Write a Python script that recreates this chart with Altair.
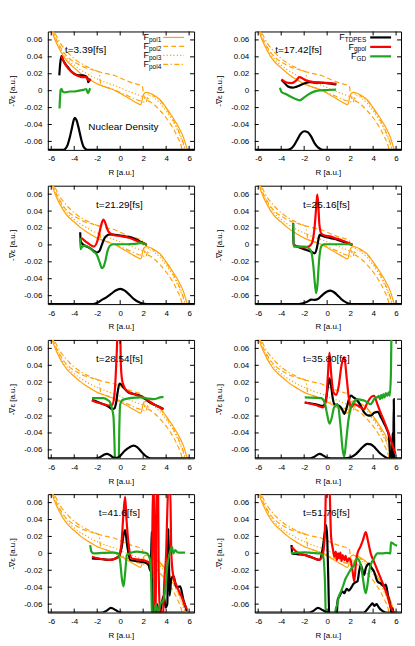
import altair as alt
import pandas as pd

XDOM = [-6.3, 6.43]
YDOM = [-0.07, 0.07]
XTICKS = [-6, -4, -2, 0, 2, 4, 6]
YTICKS = [-0.06, -0.04, -0.02, 0, 0.02, 0.04, 0.06]
W, H = 147, 119
FONT = "Liberation Sans"
ORANGE = "#ffa20a"
RED = "#ff0000"
GREEN = "#1fa51f"

# static polarized-surface forces (same in every panel)
POL1 = [(-6.1,0.080),(-5.8,0.065),(-5.5,0.055),(-5.2,0.047),(-4.9,0.040),(-4.5,0.033),(-4.0,0.027),(-3.5,0.021),(-3.0,0.016),(-2.5,0.012),(-2.0,0.008),(-1.5,0.0055),(-1.0,0.003),(-0.5,0.0005),(0.0,-0.003),(0.5,-0.007),(1.0,-0.011),(1.5,-0.015),(1.75,-0.0165),(1.85,-0.015),(1.95,-0.008),(2.1,-0.003),(2.3,-0.002),(2.6,-0.003),(3.0,-0.006),(3.5,-0.011),(4.0,-0.020),(4.5,-0.030),(5.0,-0.041),(5.5,-0.055),(5.8,-0.068),(6.1,-0.080)]
POL2 = [(-6.05,0.080),(-5.7,0.065),(-5.3,0.054),(-5.0,0.047),(-4.5,0.039),(-4.0,0.034),(-3.5,0.030),(-3.0,0.027),(-2.5,0.025),(-2.0,0.023),(-1.5,0.021),(-1.0,0.0195),(-0.43,0.0176),(0.0,0.015),(0.5,0.012),(1.0,0.0095),(1.5,0.0075),(1.8,0.0065),(1.95,0.004),(2.05,-0.006),(2.2,-0.010),(2.6,-0.013),(3.0,-0.017),(3.5,-0.024),(4.0,-0.032),(4.5,-0.042),(5.0,-0.055),(5.3,-0.065),(5.55,-0.080)]
POL3 = [(-6.05,0.078),(-5.7,0.063),(-5.3,0.052),(-5.0,0.045),(-4.5,0.036),(-4.0,0.030),(-3.5,0.025),(-3.0,0.021),(-2.5,0.017),(-2.0,0.014),(-1.5,0.011),(-1.0,0.0085),(-0.43,0.0059),(0.0,0.0035),(0.5,0.0005),(1.0,-0.002),(1.74,-0.0059),(2.2,-0.008),(2.45,-0.009),(2.55,-0.006),(2.7,-0.006),(3.0,-0.009),(3.5,-0.015),(4.0,-0.024),(4.5,-0.034),(5.0,-0.047),(5.4,-0.060),(5.75,-0.075)]
POL4 = [(-6.0,0.080),(-5.6,0.066),(-5.2,0.056),(-4.8,0.049),(-4.4,0.043),(-4.0,0.038),(-3.5,0.033),(-3.0,0.029),(-2.5,0.026),(-2.0,0.023),(-1.85,0.022),(-1.75,0.012),(-1.65,0.006),(-1.2,0.004),(-0.5,0.001),(0.0,-0.002),(0.5,-0.005),(1.0,-0.008),(1.5,-0.011),(2.0,-0.013),(2.25,-0.014),(2.35,-0.009),(2.45,-0.004),(2.7,-0.004),(3.0,-0.007),(3.5,-0.012),(4.0,-0.021),(4.5,-0.032),(5.0,-0.045),(5.4,-0.058),(5.8,-0.075)]

# panel 1  t=3.39 fs
TD1 = [(-5.3,0.018),(-5.22,0.032),(-5.12,0.041),(-5.0,0.037),(-4.8,0.032),(-4.5,0.027),(-4.2,0.022),(-3.9,0.019),(-3.6,0.018),(-3.3,0.018),(-3.0,0.017),(-2.85,0.015),(-2.78,0.010),(-2.68,0.012),(-2.6,0.014)]
GP1 = [(-5.12,0.041),(-5.0,0.037),(-4.8,0.032),(-4.5,0.026),(-4.2,0.022),(-3.9,0.019),(-3.6,0.017),(-3.3,0.016),(-3.0,0.016),(-2.85,0.014),(-2.72,0.012),(-2.58,0.014)]
GD1 = [(-5.28,-0.021),(-5.22,-0.005),(-5.18,0.001),(-5.1,0.002),(-5.0,-0.001),(-4.8,-0.002),(-4.4,-0.001),(-4.0,-0.001),(-3.6,0.0),(-3.2,0.001),(-2.95,0.002),(-2.82,-0.003),(-2.72,-0.001),(-2.62,0.003)]
DEN1 = [(-6.3,-0.07),(-5.0,-0.07),(-4.8,-0.069),(-4.6,-0.065),(-4.4,-0.056),(-4.2,-0.044),(-4.05,-0.035),(-3.95,-0.032),(-3.8,-0.035),(-3.6,-0.045),(-3.4,-0.057),(-3.2,-0.066),(-3.0,-0.069),(-2.8,-0.07),(6.43,-0.07)]

# panel 2  t=17.42 fs
TD2 = [(-3.97,0.013),(-3.7,0.009),(-3.4,0.005),(-3.0,0.0035),(-2.7,0.0045),(-2.4,0.0062),(-2.0,0.0085),(-1.5,0.010),(-1.0,0.0095),(-0.5,0.0094),(0.0,0.009),(0.4,0.008),(0.8,0.0074)]
GP2 = [(-3.97,0.0135),(-3.6,0.010),(-3.1,0.009),(-2.7,0.012),(-2.4,0.016),(-2.2,0.015),(-1.96,0.0129),(-1.5,0.011),(-0.95,0.0098),(-0.4,0.0096),(0.2,0.009),(0.8,0.0082)]
GD2 = [(-4.11,0.0035),(-4.05,0.001),(-3.97,-0.0016),(-3.6,-0.004),(-3.2,-0.007),(-2.8,-0.0095),(-2.39,-0.0114),(-2.0,-0.008),(-1.53,-0.0036),(-1.0,-0.0005),(-0.66,0.0004),(0.0,0.0008),(0.78,0.0012)]
DEN2 = [(-6.3,-0.07),(-3.5,-0.07),(-3.2,-0.069),(-2.9,-0.065),(-2.6,-0.058),(-2.3,-0.051),(-2.0,-0.048),(-1.7,-0.049),(-1.4,-0.054),(-1.1,-0.062),(-0.8,-0.067),(-0.5,-0.0695),(-0.3,-0.07),(6.43,-0.07)]

# panel 3  t=21.29 fs
TD3 = [(-3.48,0.015),(-3.44,0.004),(-3.2,0.0),(-2.9,-0.002),(-2.61,-0.004),(-2.3,-0.007),(-2.03,-0.009),(-1.8,-0.007),(-1.6,0.0),(-1.4,0.007),(-1.2,0.0105),(-0.9,0.0125),(-0.5,0.012),(0.0,0.011),(0.6,0.0095),(1.16,0.0078),(1.6,0.005),(2.03,0.002),(2.32,0.0)]
GP3 = [(-3.35,0.008),(-3.0,0.004),(-2.6,0.0),(-2.3,-0.002),(-2.0,0.004),(-1.75,0.018),(-1.55,0.028),(-1.45,0.030),(-1.3,0.026),(-1.1,0.018),(-0.9,0.014),(-0.58,0.0118),(0.0,0.0105),(0.6,0.009),(1.16,0.0065),(1.6,0.004),(2.03,0.002),(2.32,0.0008)]
GD3 = [(-3.48,0.008),(-3.45,-0.005),(-3.3,-0.002),(-3.04,-0.0008),(-2.61,-0.004),(-2.3,-0.008),(-2.03,-0.0118),(-1.8,-0.020),(-1.59,-0.0275),(-1.45,-0.026),(-1.3,-0.0196),(-1.1,-0.007),(-0.9,-0.001),(-0.58,0.0008),(0.0,0.0008),(0.6,0.0008),(1.2,0.0012),(1.74,0.002),(2.32,0.0008)]
DEN3 = [(-6.3,-0.07),(-2.4,-0.07),(-2.0,-0.0685),(-1.6,-0.065),(-1.2,-0.062),(-0.8,-0.058),(-0.4,-0.054),(0.0,-0.052),(0.4,-0.054),(0.8,-0.059),(1.2,-0.064),(1.6,-0.0675),(2.0,-0.0695),(2.3,-0.07),(6.43,-0.07)]

# panel 4  t=25.16 fs
TD4 = [(-2.96,0.0255),(-2.92,0.0),(-2.6,-0.002),(-2.24,-0.004),(-1.8,-0.006),(-1.38,-0.008),(-1.09,-0.010),(-0.9,-0.004),(-0.75,0.007),(-0.66,0.0118),(-0.4,0.0105),(-0.23,0.0098),(0.3,0.008),(0.92,0.006),(1.6,0.003),(2.21,0.0)]
GP4 = [(-2.9,0.0),(-2.5,-0.002),(-2.0,-0.003),(-1.6,-0.002),(-1.3,0.003),(-1.1,0.02),(-0.95,0.045),(-0.86,0.0596),(-0.78,0.05),(-0.68,0.025),(-0.52,0.0137),(-0.2,0.011),(0.34,0.0098),(0.8,0.0075),(1.21,0.0059),(1.7,0.003),(2.21,0.0)]
GD4 = [(-2.96,0.0255),(-2.92,-0.002),(-2.5,-0.002),(-1.95,-0.002),(-1.6,-0.004),(-1.38,-0.008),(-1.2,-0.025),(-1.05,-0.048),(-0.95,-0.057),(-0.85,-0.048),(-0.7,-0.018),(-0.52,-0.002),(-0.3,0.0008),(0.5,0.0008),(1.4,0.0008),(2.21,0.0008)]
DEN4 = [(-6.3,-0.07),(-2.5,-0.07),(-2.1,-0.069),(-1.7,-0.067),(-1.38,-0.0647),(-1.1,-0.065),(-0.8,-0.064),(-0.4,-0.059),(0.0,-0.055),(0.29,-0.054),(0.6,-0.056),(1.0,-0.061),(1.4,-0.066),(1.8,-0.069),(2.1,-0.07),(6.43,-0.07)]

# panel 5  t=28.54 fs
TD5 = [(-2.46,-0.0012),(-2.0,-0.003),(-1.45,-0.006),(-1.0,-0.009),(-0.72,-0.012),(-0.5,-0.011),(-0.35,-0.004),(-0.2,0.010),(-0.06,0.0184),(0.1,0.017),(0.29,0.0137),(0.72,0.0078),(1.2,0.006),(1.74,0.004),(2.2,0.0),(2.61,-0.004),(3.19,-0.0078),(3.77,-0.0118)]
GP5 = [(-2.46,-0.0012),(-2.0,-0.004),(-1.45,-0.006),(-1.0,-0.0075),(-0.7,-0.007),(-0.5,0.005),(-0.4,0.025),(-0.3,0.055),(-0.22,0.08),(0.0,0.08),(0.06,0.04),(0.15,0.024),(0.3,0.016),(0.58,0.0098),(1.16,0.006),(1.6,0.004),(2.03,0.002),(2.5,-0.002),(2.9,-0.006),(3.48,-0.010),(3.77,-0.0118)]
GD5 = [(-2.46,0.0012),(-1.45,0.0012),(-1.1,-0.001),(-0.87,-0.004),(-0.7,-0.012),(-0.58,-0.0216),(-0.5,-0.05),(-0.43,-0.08),(-0.14,-0.08),(-0.07,-0.03),(0.0,-0.006),(0.2,-0.001),(0.43,0.0),(1.0,0.0015),(1.74,0.002),(2.3,0.001),(2.9,0.0),(3.48,0.002),(3.77,0.0027)]
DEN5 = [(-6.3,-0.07),(-2.2,-0.07),(-1.8,-0.069),(-1.45,-0.066),(-1.16,-0.0647),(-0.9,-0.066),(-0.6,-0.069),(-0.3,-0.0695),(0.0,-0.067),(0.4,-0.061),(0.8,-0.057),(1.16,-0.055),(1.5,-0.057),(1.9,-0.063),(2.3,-0.068),(2.7,-0.07),(6.43,-0.07)]

# panel 6  t=35.80 fs
TD6 = [(-1.95,-0.004),(-1.0,-0.006),(-0.37,-0.008),(-0.1,0.0),(0.1,0.018),(0.2,0.0247),(0.35,0.015),(0.5,0.0),(0.63,-0.006),(1.06,-0.008),(1.3,-0.012),(1.49,-0.0176),(1.7,-0.010),(1.9,0.0),(2.07,0.0043),(2.3,0.002),(2.64,-0.0016),(3.0,-0.010),(3.22,-0.0157),(3.5,-0.019),(3.79,-0.0196),(4.1,-0.016),(4.4,-0.015),(4.7,-0.022),(5.0,-0.030),(5.2,-0.036),(5.37,-0.043),(5.45,-0.06),(5.52,-0.075),(5.62,-0.075),(5.7,-0.04),(5.75,-0.075),(5.8,0.0),(5.85,-0.075)]
GP6 = [(-1.95,-0.004),(-1.0,-0.007),(-0.37,-0.0098),(-0.1,-0.002),(0.05,0.025),(0.2,0.055),(0.35,0.03),(0.55,0.008),(0.78,0.005),(1.0,0.015),(1.25,0.040),(1.49,0.0498),(1.7,0.025),(1.9,0.0),(2.07,-0.0098),(2.36,-0.006),(2.8,-0.009),(3.22,-0.0118),(3.5,-0.004),(3.79,0.002),(4.08,0.004),(4.37,-0.006),(4.65,-0.016),(4.94,-0.0255),(5.37,-0.041),(5.7,-0.055),(5.95,-0.0647)]
GD6 = [(-1.95,0.002),(-0.52,0.0012),(-0.2,-0.005),(0.0,-0.018),(0.2,-0.029),(0.4,-0.022),(0.6,-0.010),(0.92,-0.006),(1.15,-0.030),(1.35,-0.060),(1.49,-0.068),(1.65,-0.050),(1.85,-0.025),(2.07,-0.0098),(2.35,-0.003),(2.64,0.0),(3.0,-0.001),(3.22,-0.0016),(3.5,-0.004),(3.79,-0.006),(4.0,-0.002),(4.2,0.002),(4.37,0.002),(4.5,0.004),(4.6,0.0),(4.7,0.005),(4.8,0.001),(4.9,0.006),(5.0,0.002),(5.1,0.007),(5.23,0.004),(5.35,0.008),(5.45,0.004),(5.55,0.03),(5.6,0.08)]
DEN6 = [(-6.3,-0.07),(-1.5,-0.07),(-1.1,-0.068),(-0.66,-0.0647),(-0.3,-0.067),(0.0,-0.0695),(0.3,-0.07),(1.5,-0.07),(2.0,-0.069),(2.5,-0.065),(3.0,-0.058),(3.5,-0.053),(3.8,-0.0535),(4.2,-0.058),(4.6,-0.064),(5.0,-0.068),(5.3,-0.07),(6.43,-0.07)]

# panel 7  t=41.6 fs
TD7 = [(-2.46,-0.0059),(-1.5,-0.007),(-0.87,-0.0078),(-0.14,-0.004),(0.1,0.005),(0.3,0.022),(0.43,0.0275),(0.6,0.010),(0.87,-0.0078),(1.3,-0.009),(1.74,-0.0098),(2.32,-0.0118),(2.5,-0.015),(2.6,-0.020),(2.7,0.0),(2.75,0.0255),(2.8,-0.04),(2.85,-0.08),(3.0,-0.08),(3.2,-0.06),(3.4,-0.075),(3.6,-0.06),(3.8,-0.05),(3.95,-0.064),(4.1,-0.06),(4.2,0.029),(4.3,-0.05),(4.45,-0.03),(4.64,-0.027),(4.9,-0.04),(5.22,-0.039),(5.5,-0.055),(5.8,-0.068)]
GP7 = [(-2.46,-0.004),(-1.5,-0.007),(-0.87,-0.0078),(-0.4,-0.006),(-0.14,-0.004),(0.1,0.01),(0.3,0.05),(0.43,0.0667),(0.55,0.04),(0.72,0.012),(1.01,-0.006),(1.4,-0.007),(1.74,-0.0078),(2.2,-0.009),(2.6,-0.012),(2.75,-0.03),(2.85,0.08),(2.95,0.08),(3.0,-0.08),(3.1,-0.08),(3.15,0.08),(3.3,0.08),(3.35,-0.02),(3.5,-0.08),(3.7,-0.08),(3.85,-0.03),(4.0,0.0),(4.1,0.05),(4.2,0.08),(4.35,0.08),(4.45,0.0),(4.6,-0.025),(4.93,-0.039),(5.3,-0.05),(5.8,-0.066)]
GD7 = [(-2.61,0.0098),(-2.5,0.002),(-2.32,0.0),(-1.5,0.0005),(-0.58,0.0008),(-0.2,0.0),(0.0,-0.01),(0.15,-0.03),(0.29,-0.039),(0.45,-0.02),(0.58,-0.002),(1.0,0.001),(1.45,0.002),(2.0,0.001),(2.32,0.0),(2.61,-0.0078),(2.7,-0.03),(2.78,-0.08),(2.9,-0.08),(3.1,-0.06),(3.3,-0.07),(3.5,-0.06),(3.77,-0.055),(3.95,-0.04),(4.1,-0.015),(4.3,0.0),(4.5,0.0078),(4.64,0.0),(4.8,0.004),(5.0,0.001),(5.3,0.0008),(5.65,0.0008)]
DEN7 = [(-6.3,-0.07),(-1.6,-0.07),(-1.2,-0.068),(-0.8,-0.0645),(-0.4,-0.067),(-0.1,-0.0695),(0.2,-0.07),(6.43,-0.07)]

# panel 8  t=51.76 fs
TD8 = [(-3.1,0.0098),(-3.05,0.0),(-2.6,-0.001),(-1.95,-0.002),(-1.3,-0.005),(-0.66,-0.0078),(-0.4,0.005),(-0.2,0.025),(-0.09,0.0333),(0.0,0.02),(0.1,-0.03),(0.2,-0.08),(0.8,-0.08),(0.92,-0.055),(1.1,-0.05),(1.3,-0.045),(1.49,-0.047),(1.7,-0.042),(1.9,-0.044),(2.07,-0.041),(2.3,-0.036),(2.5,-0.034),(2.64,-0.033),(2.8,-0.020),(2.93,-0.0137),(3.1,-0.022),(3.22,-0.0255),(3.35,-0.018),(3.5,-0.0137),(3.65,-0.012),(3.79,-0.0157),(4.08,-0.0216),(4.37,-0.033),(4.7,-0.036),(4.94,-0.039),(5.1,-0.037),(5.3,-0.050),(5.52,-0.063),(5.6,-0.07),(5.7,-0.065),(5.8,-0.075)]
GP8 = [(-3.1,0.0078),(-2.6,0.001),(-1.95,-0.002),(-1.3,-0.005),(-0.66,-0.0078),(-0.4,-0.002),(-0.23,0.0157),(-0.15,0.05),(-0.1,0.08),(0.2,0.08),(0.3,0.035),(0.34,0.020),(0.5,0.005),(0.63,-0.004),(0.75,0.002),(0.85,-0.008),(0.95,0.0),(1.05,-0.006),(1.15,0.001),(1.25,-0.009),(1.35,-0.002),(1.5,-0.008),(1.6,-0.003),(1.75,-0.010),(1.9,-0.006),(2.07,-0.0098),(2.2,-0.02),(2.36,-0.033),(2.5,-0.012),(2.64,0.0),(2.9,0.008),(3.1,0.015),(3.36,0.025),(3.55,0.015),(3.79,0.0),(4.08,-0.010),(4.37,-0.020),(4.65,-0.029),(4.94,-0.039),(5.25,-0.050),(5.52,-0.063),(5.8,-0.070)]
GD8 = [(-3.1,0.002),(-3.05,0.0),(-2.5,0.001),(-1.95,0.0012),(-1.3,0.0005),(-0.66,0.0),(-0.37,-0.002),(-0.2,-0.03),(-0.1,-0.08),(0.6,-0.08),(0.7,-0.07),(0.78,-0.064),(0.9,-0.06),(1.0,-0.052),(1.21,-0.045),(1.4,-0.038),(1.6,-0.03),(1.78,-0.0255),(2.1,-0.018),(2.36,-0.0137),(2.5,-0.008),(2.64,-0.0059),(2.8,-0.009),(2.93,-0.0137),(3.1,-0.028),(3.25,-0.042),(3.36,-0.047),(3.5,-0.038),(3.65,-0.022),(3.79,-0.0137),(4.08,-0.006),(4.37,0.0),(4.8,0.0),(5.2,0.0005),(5.5,0.0),(5.55,0.013),(5.7,0.012),(5.9,0.010),(6.09,0.009)]
DEN8 = [(-6.3,-0.07),(-1.6,-0.07),(-1.2,-0.068),(-0.8,-0.0645),(-0.4,-0.067),(-0.1,-0.0695),(0.2,-0.07),(3.2,-0.07),(3.5,-0.066),(3.8,-0.061),(3.95,-0.059),(4.1,-0.062),(4.3,-0.060),(4.5,-0.064),(4.8,-0.068),(5.1,-0.07),(6.43,-0.07)]

TIMES = ["t=3.39[fs]", "t=17.42[fs]", "t=21.29[fs]", "t=25.16[fs]",
         "t=28.54[fs]", "t=35.80[fs]", "t=41.6[fs]", "t=51.76[fs]"]
TD = [TD1, TD2, TD3, TD4, TD5, TD6, TD7, TD8]
GP = [GP1, GP2, GP3, GP4, GP5, GP6, GP7, GP8]
GD = [GD1, GD2, GD3, GD4, GD5, GD6, GD7, GD8]
DEN = [DEN1, DEN2, DEN3, DEN4, DEN5, DEN6, DEN7, DEN8]

# label placement (pixels inside each plot)
TIME_X = [38, 44, 72, 72, 72, 72, 72, 72]
TIME_Y = 19

ARIAL = {"p": .556, "o": .556, "l": .222, "1": .556, "2": .556, "3": .556, "4": .556,
         "T": .611, "D": .722, "P": .667, "E": .667, "S": .667, "g": .556, "G": .778}

xs = alt.Scale(domain=XDOM, nice=False, zero=False)
ys = alt.Scale(domain=YDOM, nice=False, zero=False)
XAX = alt.Axis(values=XTICKS, title="R [a.u.]", grid=False, ticks=False, domain=False,
               labelExpr="(datum.value < 0 ? '-' : '') + format(abs(datum.value), 'd')",
               labelPadding=5, titlePadding=6, labelFlush=False)
YAX = alt.Axis(values=YTICKS, title="-\u2207\u03b5 [a.u.]", grid=False, ticks=False, domain=False,
               labelExpr="datum.value == 0 ? '0' : (datum.value < 0 ? '-' : '') + format(abs(datum.value), '.2f')",
               labelPadding=6, titlePadding=7, labelFlush=False)
XENC = alt.X("R:Q", scale=xs, axis=XAX)
YENC = alt.Y("F:Q", scale=ys, axis=YAX)
one = pd.DataFrame({"a": [0]})


def frame(pts):
    return pd.DataFrame(pts, columns=["R", "F"])


def line(pts, color, width, dash=None, interp="monotone"):
    kw = dict(color=color, strokeWidth=width, clip=True, interpolate=interp)
    if dash:
        kw["strokeDash"] = dash
    return alt.Chart(frame(pts)).mark_line(**kw).encode(x=XENC, y=YENC)


def tick_layers():
    yt = pd.DataFrame({"F": YTICKS})
    xt = pd.DataFrame({"R": XTICKS})
    out = []
    for a, b in [(0, 4), (W - 4, W)]:
        out.append(alt.Chart(yt).mark_rule(color="black", strokeWidth=1).encode(
            y=YENC, x=alt.value(a), x2=alt.value(b)))
    for a, b in [(H - 4, H), (0, 4)]:
        out.append(alt.Chart(xt).mark_rule(color="black", strokeWidth=1).encode(
            x=XENC, y=alt.value(a), y2=alt.value(b)))
    return out


def text(s, x, y, size=10, align="center", baseline="middle"):
    return alt.Chart(one).mark_text(text=s, fontSize=size, font=FONT, align=align,
                                    baseline=baseline, color="black").encode(
        x=alt.value(x), y=alt.value(y))


def keyline(y, color, width, dash=None):
    kw = dict(color=color, strokeWidth=width)
    if dash:
        kw["strokeDash"] = dash
    return alt.Chart(one).mark_rule(**kw).encode(x=alt.value(116), x2=alt.value(137), y=alt.value(y))


def key_entry(sub, y, right, color, width, dash=None):
    sw = sum(ARIAL[c] for c in sub) * 6.5
    return [text("F", right - sw, y, size=9, align="right"),
            text(sub, right, y + 2.5, size=6.5, align="right"),
            keyline(y, color, width, dash)]


DASH2 = [5, 3]
DASH3 = [1.2, 2.2]
DASH4 = [5, 2.5, 1.2, 2.5]


def panel(i):
    layers = [line(POL1, ORANGE, 1.2),
              line(POL2, ORANGE, 1.2, DASH2),
              line(POL3, ORANGE, 1.2, DASH3),
              line(POL4, ORANGE, 1.2, DASH4)]
    layers += [line(TD[i], "black", 2.2),
               line(GP[i], RED, 2.2),
               line(GD[i], GREEN, 2.2),
               line(DEN[i], "black", 2.2)]
    layers += tick_layers()
    layers.append(text(TIMES[i], TIME_X[i], TIME_Y))
    if i == 0:
        layers.append(text("Nuclear Density", 76, 96))
        for k, (sub, dash) in enumerate([("pol1", None), ("pol2", DASH2), ("pol3", DASH3), ("pol4", DASH4)]):
            layers += key_entry(sub, 6 + 9 * k, 114, ORANGE, 1.2, dash)
    if i == 1:
        for k, (sub, col) in enumerate([("TDPES", "black"), ("gpol", RED), ("GD", GREEN)]):
            layers += key_entry(sub, 6 + 9.5 * k, 112, col, 2.2)
    return alt.layer(*layers).properties(width=W, height=H)


rows = [alt.hconcat(panel(2 * r), panel(2 * r + 1), spacing=20) for r in range(4)]
chart = alt.vconcat(*rows, spacing=7).properties(
    padding={"left": 0, "top": 21, "right": 5, "bottom": 0}
).configure_view(stroke="black", strokeWidth=1).configure_axis(
    labelFont=FONT, titleFont=FONT, labelFontSize=8, titleFontSize=8,
    titleFontWeight="normal", labelColor="black", titleColor="black"
)

chart.save("out.html", embed_options={"renderer": "svg", "actions": False})
